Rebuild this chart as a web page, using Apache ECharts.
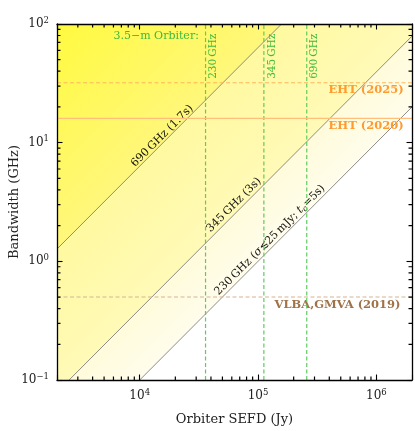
<!DOCTYPE html>
<html>
<head>
<meta charset="utf-8">
<style>
  html, body { margin: 0; padding: 0; background: #fff; }
  #chart { width: 415px; height: 431px; }
</style>
<script src="https://cdn.jsdelivr.net/npm/echarts@6/dist/echarts.min.js"></script>
</head>
<body>
<div id="chart"></div>
<script>
// axis ranges
const sefdRange = [2000, 2000000];
const bwRange = [0.1, 100];

// sensitivity lines, [SEFD (Jy), bandwidth (GHz)] end points
const line690 = [[2000, 1.27], [158000, 100]];
const line345 = [[2000, 0.079], [2000000, 79]];
const line230 = [[2000, 0.02], [2000000, 20]];

// orbiter SEFD per band (green dashed)
const bandNames = ['230\u2009GHz', '345\u2009GHz', '690\u2009GHz'];
const orbiterSefd = [36000, 112000, 258000];

// ground array bandwidths
const arrayNames = ['EHT (2025)', 'EHT (2020)', 'VLBA,GMVA (2019)'];
const arrayBw = [32, 16, 0.5];

// minor tick marks
const mantissas = [2, 3, 4, 5, 6, 7, 8, 9];
const xDecades = [1000, 10000, 100000];
const yDecades = [0.1, 1, 10];

const serif = "'DejaVu Serif', 'Liberation Serif', serif";
const box = { left: 57, top: 24, width: 355, height: 356 };

function grad(stops) {
  return {
    type: 'linear', global: true,
    x: box.left, y: box.top, x2: box.left + box.width, y2: box.top + box.height,
    colorStops: stops.map(s => ({ offset: s[0], color: s[1] }))
  };
}

function powLabel(v) {
  const lg = Math.log10(v);
  const k = Math.round(lg);
  if (Math.abs(lg - k) > 1e-6) return '';
  return '{b|10}{s|' + String(k).replace('-', '\u2212') + '}';
}

const tickRich = {
  b: { fontFamily: serif, fontSize: 12, color: '#222' },
  s: { fontFamily: serif, fontSize: 8.5, color: '#222', verticalAlign: 'bottom', padding: [0, 0, 7, 0] }
};

function axisBase(show) {
  return {
    type: 'log', logBase: 10, z: 10,
    axisLine: { show: true, lineStyle: { color: '#000', width: 1.3 } },
    axisTick: { show: true, inside: true, length: 5.5, lineStyle: { color: '#000', width: 1.1 } },
    splitLine: { show: false },
    axisLabel: { show: show, formatter: powLabel, rich: tickRich, fontFamily: serif }
  };
}

function lineLabel(coord, text, extra) {
  return {
    coord: coord,
    symbol: 'circle', symbolSize: 0,
    label: Object.assign({
      show: true, position: 'inside', formatter: text,
      fontFamily: serif, fontSize: 11, color: '#111',
      align: 'center', verticalAlign: 'middle', rotate: 45
    }, extra || {})
  };
}

function refLine(points, color, width, type) {
  return {
    type: 'line', data: points, symbol: 'none', z: 5, silent: true,
    lineStyle: { color: color, width: width, type: type }
  };
}

// minor ticks on all four sides, one broken polyline (length as a factor in data space)
const minorFactor = 1.07;
const minorTickPts = [];
xDecades.forEach(d => mantissas.forEach(m => {
  const v = m * d;
  if (v <= sefdRange[0] || v >= sefdRange[1]) return;
  minorTickPts.push([v, bwRange[0]], [v, bwRange[0] * minorFactor], [v, '-']);
  minorTickPts.push([v, bwRange[1]], [v, bwRange[1] / minorFactor], [v, '-']);
}));
yDecades.forEach(d => mantissas.forEach(m => {
  const v = m * d;
  if (v <= bwRange[0] || v >= bwRange[1]) return;
  minorTickPts.push([sefdRange[0], v], [sefdRange[0] * minorFactor, v], ['-', v]);
  minorTickPts.push([sefdRange[1], v], [sefdRange[1] / minorFactor, v], ['-', v]);
}));

const chart = echarts.init(document.getElementById('chart'), null, { renderer: 'canvas' });

const nameStyle = { fontFamily: serif, fontSize: 13, color: '#222' };
const dash = [4, 2.5];

const option = {
  animation: false,
  backgroundColor: '#fff',
  grid: { left: box.left, top: box.top, width: box.width, height: box.height, containLabel: false, outerBoundsMode: 'none' },
  xAxis: [
    Object.assign(axisBase(true), {
      min: sefdRange[0], max: sefdRange[1], position: 'bottom',
      name: 'Orbiter SEFD (Jy)', nameLocation: 'middle', nameGap: 33, nameMoveOverlap: false,
      nameTextStyle: nameStyle
    }),
    Object.assign(axisBase(false), { min: sefdRange[0], max: sefdRange[1], position: 'top' })
  ],
  yAxis: [
    Object.assign(axisBase(true), {
      min: bwRange[0], max: bwRange[1], position: 'left',
      name: 'Bandwidth (GHz)', nameLocation: 'middle', nameGap: 36, nameMoveOverlap: false,
      nameTextStyle: nameStyle
    }),
    Object.assign(axisBase(false), { min: bwRange[0], max: bwRange[1], position: 'right' })
  ],
  series: [
    {
      type: 'line', data: line230, symbol: 'none', z: 2,
      lineStyle: { color: '#808080', width: 0.9 },
      areaStyle: { origin: 'end', opacity: 1, color: grad([[0, '#fffbd6'], [0.5, '#fffbd8'], [0.63, '#fffdee'], [1, '#fffdee']]) },
      markPoint: { silent: true, data: [
        lineLabel([126000, 1.51], '230\u2009GHz ({i|σ}≲25\u2009mJy; {i|t}{sub|c}=5s)', {
          rich: {
            i: { fontFamily: serif, fontStyle: 'italic', fontSize: 11, color: '#111' },
            sub: { fontFamily: serif, fontStyle: 'italic', fontSize: 8, color: '#111', verticalAlign: 'top', padding: [6, 0, 0, 0] }
          }
        })
      ] }
    },
    {
      type: 'line', data: line345, symbol: 'none', z: 2,
      lineStyle: { color: '#808080', width: 0.9 },
      areaStyle: { origin: 'end', opacity: 1, color: grad([[0, '#fff99c'], [0.31, '#fff9a0'], [0.52, '#fffab8'], [1, '#fffab8']]) },
      markPoint: { silent: true, data: [lineLabel([62700, 2.99], '345\u2009GHz (3s)')] }
    },
    {
      type: 'line', data: line690, symbol: 'none', z: 2,
      lineStyle: { color: '#808080', width: 0.9 },
      areaStyle: { origin: 'end', opacity: 1, color: grad([[0, '#fffa40'], [0.32, '#fff77c'], [1, '#fff77c']]) },
      markPoint: { silent: true, data: [lineLabel([15500, 11.4], '690\u2009GHz (1.7s)')] }
    }
  ].concat(
    orbiterSefd.map(v => refLine([[v, bwRange[0]], [v, bwRange[1]]], '#5fcc5f', 1.2, dash)),
    [
      refLine([[sefdRange[0], arrayBw[0]], [sefdRange[1], arrayBw[0]]], '#ffb65e', 1.1, dash),
      refLine([[sefdRange[0], arrayBw[1]], [sefdRange[1], arrayBw[1]]], '#ffbe7a', 1.3, 'solid'),
      refLine([[sefdRange[0], arrayBw[2]], [sefdRange[1], arrayBw[2]]], '#d6b494', 1.1, dash),
      {
        type: 'line', data: [], z: 6, silent: true,
        markPoint: {
          silent: true,
          data: orbiterSefd.map((v, i) => lineLabel([v * 1.05, 83], bandNames[i], {
            rotate: 90, align: 'right', verticalAlign: 'top', color: '#3dba3d', fontSize: 10.5
          })).concat([
            lineLabel([31600, 79], '3.5\u2212m Orbiter:', { rotate: 0, align: 'right', color: '#3dba3d', fontSize: 11 }),
            lineLabel([1700000, 27.8], arrayNames[0], { rotate: 0, align: 'right', color: '#ff9a2e', fontWeight: 'bold', fontSize: 11.5 }),
            lineLabel([1700000, 13.9], arrayNames[1], { rotate: 0, align: 'right', color: '#ff9a2e', fontWeight: 'bold', fontSize: 11.5 }),
            lineLabel([1600000, 0.43], arrayNames[2], { rotate: 0, align: 'right', color: '#a0724a', fontWeight: 'bold', fontSize: 11.5 })
          ])
        }
      },
      {
        type: 'line', data: minorTickPts, z: 20, silent: true, symbol: 'none',
        connectNulls: false, clip: false,
        lineStyle: { color: '#000', width: 1.2 }
      }
    ]
  )
};

chart.setOption(option);
</script>
</body>
</html>
